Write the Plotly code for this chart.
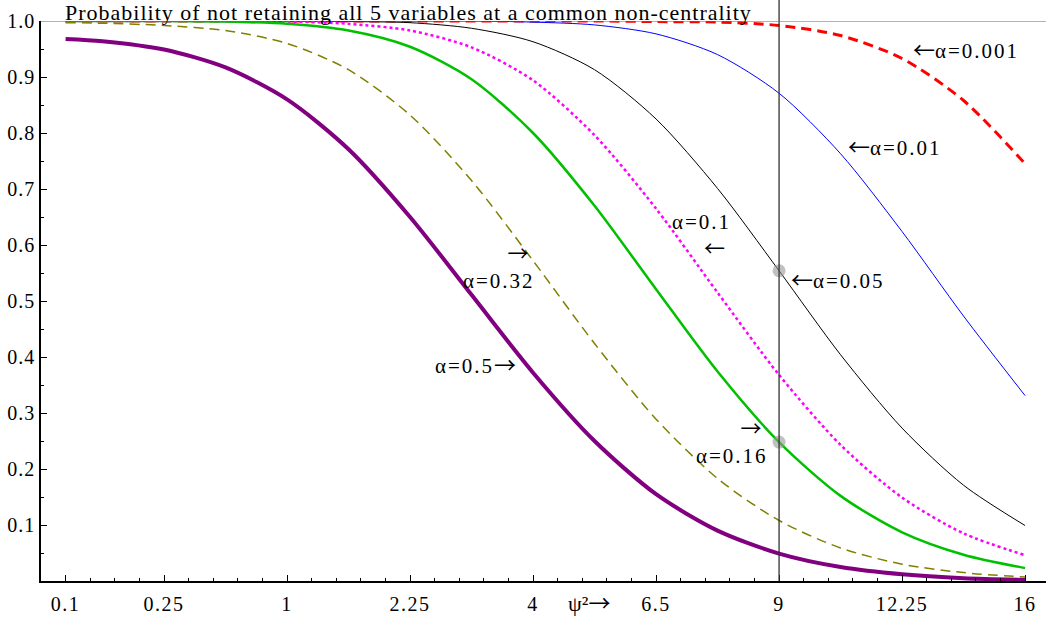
import plotly.graph_objects as go

# ---- data ----
psi = [0.1, 0.25, 0.5, 0.75, 1.0, 1.25, 1.5, 1.75, 2.0, 2.25, 2.5, 2.75, 3.0, 3.25, 3.5, 3.75, 4.0]

alpha_050 = [0.968, 0.964, 0.949, 0.917, 0.860, 0.771, 0.650, 0.511, 0.372, 0.250, 0.155, 0.090, 0.049, 0.025, 0.012, 0.005, 0.002]
alpha_032 = [0.997, 0.996, 0.992, 0.983, 0.960, 0.913, 0.832, 0.715, 0.572, 0.424, 0.289, 0.183, 0.108, 0.059, 0.030, 0.015, 0.007]
alpha_016 = [1.000, 1.000, 1.000, 0.999, 0.995, 0.983, 0.954, 0.896, 0.800, 0.670, 0.521, 0.374, 0.248, 0.152, 0.087, 0.047, 0.023]
alpha_010 = [1.000, 1.000, 1.000, 1.000, 0.999, 0.995, 0.983, 0.953, 0.894, 0.796, 0.665, 0.515, 0.368, 0.243, 0.149, 0.085, 0.046]
alpha_005 = [1.000, 1.000, 1.000, 1.000, 1.000, 0.999, 0.997, 0.987, 0.963, 0.913, 0.825, 0.701, 0.554, 0.404, 0.273, 0.171, 0.099]
alpha_001 = [1.000, 1.000, 1.000, 1.000, 1.000, 1.000, 1.000, 1.000, 0.998, 0.993, 0.977, 0.940, 0.871, 0.763, 0.624, 0.473, 0.331]
alpha_0001 = [1.000, 1.000, 1.000, 1.000, 1.000, 1.000, 1.000, 1.000, 1.000, 1.000, 0.999, 0.998, 0.992, 0.974, 0.933, 0.858, 0.745]

highlight_psi = [3.0, 3.0]
highlight_prob = [0.554, 0.248]

x_tickvals = [0.1, 0.5, 1.0, 1.5, 2.0, 2.5, 3.0, 3.5, 4.0]
x_ticktext = ["0.1", "0.25", "1", "2.25", "4", "6.5", "9", "12.25", "16"]
y_tickvals = [0.1, 0.2, 0.3, 0.4, 0.5, 0.6, 0.7, 0.8, 0.9, 1.0]
y_ticktext = ["0.1", "0.2", "0.3", "0.4", "0.5", "0.6", "0.7", "0.8", "0.9", "1.0"]

title_text = "Probability of not retaining all 5 variables at a common non-centrality"

FONT = "Liberation Serif, Times New Roman, serif"
AFONT = "Noto Sans CJK JP"


def arrow(ch, size=22, ls=0):
    return f"<span style='font-family:{AFONT};font-size:{size}px;letter-spacing:{ls}px'>{ch}</span>"


def sp(t, size=21, ls=2):
    return f"<span style='font-size:{size}px;letter-spacing:{ls}px'>{t}</span>"


L, R = "\u2190", "\u2192"

# label text and placement (psi, probability, alignment, base font size)
labels = [
    (arrow(L) + sp("\u03b1=0.001"), 3.76, 0.951, "center", 16),
    (arrow(L) + sp("\u03b1=0.01"), 3.473, 0.778, "center", 16),
    (sp("\u03b1=0.1") + "<br>" + arrow(L, 21, 6), 2.686, 0.6164, "right", 21),
    (arrow(L) + sp("\u03b1=0.05"), 3.238, 0.5405, "center", 16),
    (arrow(R, 21, 6) + "<br>" + sp("\u03b1=0.32"), 1.863, 0.565, "right", 21),
    (sp("\u03b1=0.5") + arrow(R), 1.767, 0.389, "center", 16),
    (arrow(R, 21, 6) + "<br>" + sp("\u03b1=0.16"), 2.808, 0.2514, "right", 21),
]

fig = go.Figure()

series = [
    (alpha_0001, dict(color="#ff0000", width=3, dash="10px,6px")),
    (alpha_001, dict(color="#0000ff", width=1)),
    (alpha_005, dict(color="#000000", width=1)),
    (alpha_010, dict(color="#ff00ff", width=2.5, dash="dot")),
    (alpha_016, dict(color="#00c000", width=2.5)),
    (alpha_032, dict(color="#808000", width=1.5, dash="10px,6px")),
    (alpha_050, dict(color="#800080", width=4)),
]
for vals, line in series:
    fig.add_trace(go.Scatter(x=psi, y=vals, mode="lines",
                             line=dict(shape="spline", smoothing=0.8, **line),
                             showlegend=False, hoverinfo="skip"))

# vertical reference line at the highlighted psi (reaches the top edge of the page)
fig.add_shape(type="line", xref="x", yref="paper", x0=highlight_psi[0], x1=highlight_psi[0],
              y0=0, y1=1.0375, line=dict(color="#333333", width=1.3))
# top line
fig.add_shape(type="line", xref="paper", yref="y", x0=0, x1=1, y0=1, y1=1,
              line=dict(color="#666666", width=1))

fig.add_trace(go.Scatter(x=highlight_psi, y=highlight_prob, mode="markers",
                         marker=dict(size=13, color="rgba(150,150,150,0.6)"),
                         showlegend=False, hoverinfo="skip", cliponaxis=False))

for txt, xv, yv, al, base in labels:
    fig.add_annotation(x=xv, y=yv, xref="x", yref="y", text=txt, showarrow=False,
                       font=dict(family=FONT, size=base, color="black"), align=al,
                       xanchor="center", yanchor="middle")

fig.add_annotation(x=0.0219, y=1, xref="paper", yref="paper",
                   text=f"<span style='letter-spacing:1px'>{title_text}</span>",
                   showarrow=False, xanchor="left", yanchor="middle", yshift=9,
                   font=dict(family=FONT, size=22, color="black"))

fig.add_annotation(x=0.545, y=0, xref="paper", yref="paper",
                   text="\u03c8\u00b2" + arrow(R),
                   showarrow=False, xanchor="center", yanchor="middle", yshift=-20,
                   font=dict(family=FONT, size=22, color="black"))

tick_x = [f"<span style='letter-spacing:1.5px'>{t}</span>" for t in x_ticktext]
tick_y = [f"<span style='letter-spacing:1px'>{t}</span>" for t in y_ticktext]

fig.update_layout(
    width=1046, height=617,
    margin=dict(l=41, r=0, t=21, b=36),
    plot_bgcolor="white", paper_bgcolor="white",
    font=dict(family=FONT, size=20, color="black"),
)
fig.update_xaxes(range=[0, 4.085], tickmode="array", tickvals=x_tickvals, ticktext=tick_x,
                 ticks="inside", ticklen=6, tickcolor="black", tickwidth=1,
                 showline=True, linecolor="black", linewidth=1.5, showgrid=False, zeroline=False,
                 minor=dict(tickmode="linear", tick0=0, dtick=0.1, ticks="inside", ticklen=3,
                            tickcolor="black", showgrid=False),
                 tickfont=dict(family=FONT, size=20), ticklabelstandoff=4)
fig.update_yaxes(range=[0, 1], tickmode="array", tickvals=y_tickvals, ticktext=tick_y,
                 ticks="inside", ticklen=6, tickcolor="black", tickwidth=1,
                 showline=True, linecolor="black", linewidth=1.5, showgrid=False, zeroline=False,
                 minor=dict(tickmode="linear", tick0=0, dtick=0.05, ticks="inside", ticklen=3,
                            tickcolor="black", showgrid=False),
                 tickfont=dict(family=FONT, size=20))

fig.write_html("out.html")
